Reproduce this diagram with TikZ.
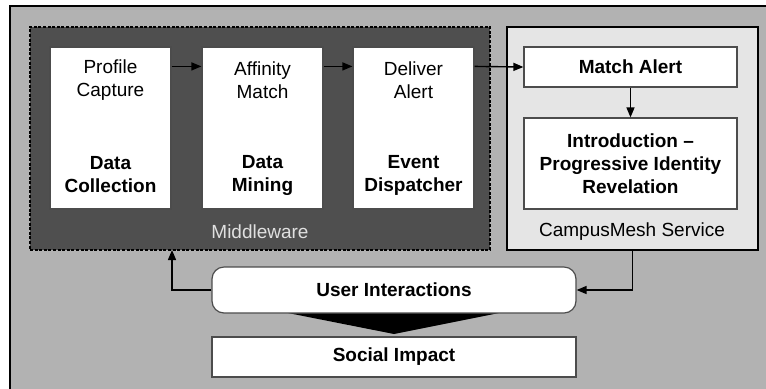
\documentclass[tikz,border=0pt]{standalone}
\usepackage{fontspec}
\setmainfont{Liberation Sans}
\usetikzlibrary{arrows.meta,positioning}

\tikzset{
  txt/.style={font=\fontsize{9.5}{11.5}\selectfont,align=center,inner sep=0pt},
  stagebox/.style={draw=black!70,line width=0.6pt,fill=white,inner sep=0pt,
    minimum width=60.5pt,minimum height=81pt},
  wide/.style={draw=black!70,line width=0.6pt,fill=white,inner sep=0pt,txt,
    font=\fontsize{9.5}{11.5}\selectfont\bfseries,minimum width=106.5pt},
  flow/.style={line width=0.7pt,-{Triangle[length=5pt,width=4pt]}}
}

\begin{document}
\begin{tikzpicture}[x=0.5pt,y=-0.5pt]
   \useasboundingbox (0,0) rectangle (766,388);
   \clip (0,0) rectangle (766,388);
   % background
   \draw[line width=1pt,fill=black!30] (10,6) rectangle (800,420);

   % middleware and service frames
   \node[draw,line width=0.6pt,dash pattern=on 1.5pt off 0.8pt,fill=black!69,
     minimum width=230pt,minimum height=111.5pt,inner sep=0pt] (mw) at (260,138.5) {};
   \node[draw,line width=0.6pt,fill=black!10,
     minimum width=125.5pt,minimum height=111.5pt,inner sep=0pt] (cm) at (632.5,138.5) {};
   \node[txt,text=black!12] (mwlabel) at (260,232) {Middleware};
   \node[txt] (cmlabel) at (632,232) {CampusMesh Service};

   % middleware stages
   \node[stagebox] (dc) at (110.5,128) {};
   \node[stagebox] (dm) at (262.5,128) {};
   \node[stagebox] (ed) at (413.5,128) {};
   \node[txt] (dctop) at (110.5,80) {Profile\\Capture};
   \node[txt,font=\fontsize{9.5}{11.5}\selectfont\bfseries] (dcname) at (110.5,175) {Data\\Collection};
   \node[txt] (dmtop) at (262.5,80) {Affinity\\Match};
   \node[txt,font=\fontsize{9.5}{11.5}\selectfont\bfseries] (dmname) at (262.5,175) {Data\\Mining};
   \node[txt] (edtop) at (413.5,80) {Deliver\\Alert};
   \node[txt,font=\fontsize{9.5}{11.5}\selectfont\bfseries] (edname) at (413.5,175) {Event\\Dispatcher};

   % service
   \node[wide,minimum height=20pt] (ma) at (630.5,67) {Match Alert};
   \node[wide,minimum height=45.5pt] (intro) at (630.5,163.5) {Introduction --\\Progressive Identity\\Revelation};

   % users
   \fill (288,313) -- (499,313) -- (394,334) -- cycle;
   \node[wide,rounded corners=6pt,minimum width=182pt,minimum height=23pt] (ui) at (394,290) {User Interactions};
   \node[wide,minimum width=182pt,minimum height=20pt] (si) at (394,357) {Social Impact};
   \coordinate (mwin) at (172,250);

   \draw[flow] ([yshift=-10pt]dc.north east) -- ([yshift=-10pt]dm.north west);
   \draw[flow] ([yshift=-10pt]dm.north east) -- ([yshift=-10pt]ed.north west);
   \draw[flow] ([yshift=-10pt]ed.north east) -- (ma.west);
   \draw[flow] (ma) -- (intro);
   \draw[flow] (cm.south) |- (ui.east);
   \draw[flow] (ui.west) -| (mwin);
 \end{tikzpicture}
\end{document}
